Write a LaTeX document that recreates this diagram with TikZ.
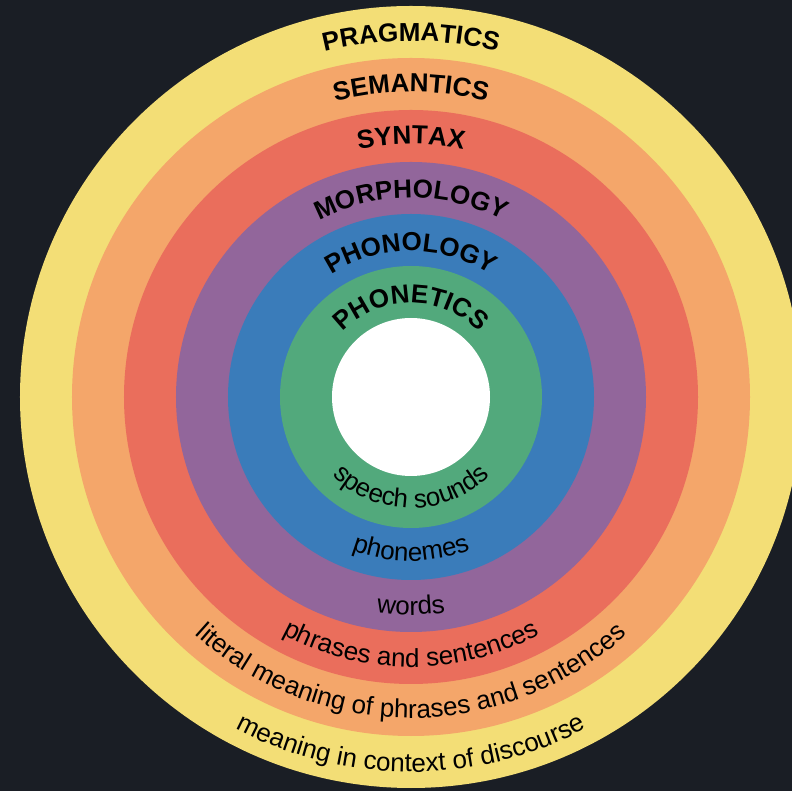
\documentclass[tikz,border=0pt]{standalone}
\usepackage{fontspec}
\setmainfont{Liberation Sans}
\usetikzlibrary{decorations.text}

\definecolor{bgdark}{HTML}{1A1E25}
\definecolor{ringyellow}{HTML}{F3DE76}
\definecolor{ringorange}{HTML}{F4A66A}
\definecolor{ringred}{HTML}{EA6E5C}
\definecolor{ringpurple}{HTML}{92669B}
\definecolor{ringblue}{HTML}{3A7CBA}
\definecolor{ringgreen}{HTML}{52A97C}

\begin{document}
\begin{tikzpicture}[
  x=1pt, y=1pt,
  ring/.style={circle,draw=none,inner sep=0pt,minimum size=#1},
  toplabel/.style={decorate,decoration={text along path,text align=center,
    text format delimiters={|}{|},
    text={|\fontsize{26}{30}\selectfont\bfseries\color{black}|#1}}},
  botlabel/.style={decorate,decoration={text along path,text align=center,
    text format delimiters={|}{|},
    text={|\fontsize{26}{30}\selectfont\color{black}|#1}}}
]
  % frame
  \useasboundingbox (-411,-394) rectangle (381,397);
  \fill[bgdark] (-411,-394) rectangle (381,397);
  \clip (-411,-394) rectangle (381,397);
  \coordinate (ctr) at (0,0);

  % rings
  \node[ring=782pt, fill=ringyellow] (pragmatics) at (ctr) {};
  \node[ring=678pt, fill=ringorange] (semantics) at (ctr) {};
  \node[ring=574pt, fill=ringred] (syntax) at (ctr) {};
  \node[ring=470pt, fill=ringpurple] (morphology) at (ctr) {};
  \node[ring=366pt, fill=ringblue] (phonology) at (ctr) {};
  \node[ring=262pt, fill=ringgreen] (phonetics) at (ctr) {};
  \node[ring=158pt, fill=white] (hole) at (ctr) {};

  % level names
  \path[toplabel=PRAGMATICS] ([shift={(180:356)}]ctr) arc[start angle=180, end angle=0, radius=356];
  \path[toplabel=SEMANTICS] ([shift={(180:305)}]ctr) arc[start angle=180, end angle=0, radius=305];
  \path[toplabel=SYNTAX] ([shift={(180:253)}]ctr) arc[start angle=180, end angle=0, radius=253];
  \path[toplabel=MORPHOLOGY] ([shift={(180:199)}]ctr) arc[start angle=180, end angle=0, radius=199];
  \path[toplabel=PHONOLOGY] ([shift={(180:146)}]ctr) arc[start angle=180, end angle=0, radius=146];
  \path[toplabel=PHONETICS] ([shift={(180:94)}]ctr) arc[start angle=180, end angle=0, radius=94];

  % level units
  \path[botlabel=speech sounds] ([shift={(180:111)}]ctr) arc[start angle=180, end angle=360, radius=111];
  \path[botlabel=phonemes] ([shift={(180:164)}]ctr) arc[start angle=180, end angle=360, radius=164];
  \path[botlabel=words] ([shift={(180:218)}]ctr) arc[start angle=180, end angle=360, radius=218];
  \path[botlabel=phrases and sentences] ([shift={(180:270)}]ctr) arc[start angle=180, end angle=360, radius=270];
  \path[botlabel=literal meaning of phrases and sentences] ([shift={(180:321)}]ctr) arc[start angle=180, end angle=360, radius=321];
  \path[botlabel=meaning in context of discourse] ([shift={(180:375)}]ctr) arc[start angle=180, end angle=360, radius=375];

\end{tikzpicture}
\end{document}
